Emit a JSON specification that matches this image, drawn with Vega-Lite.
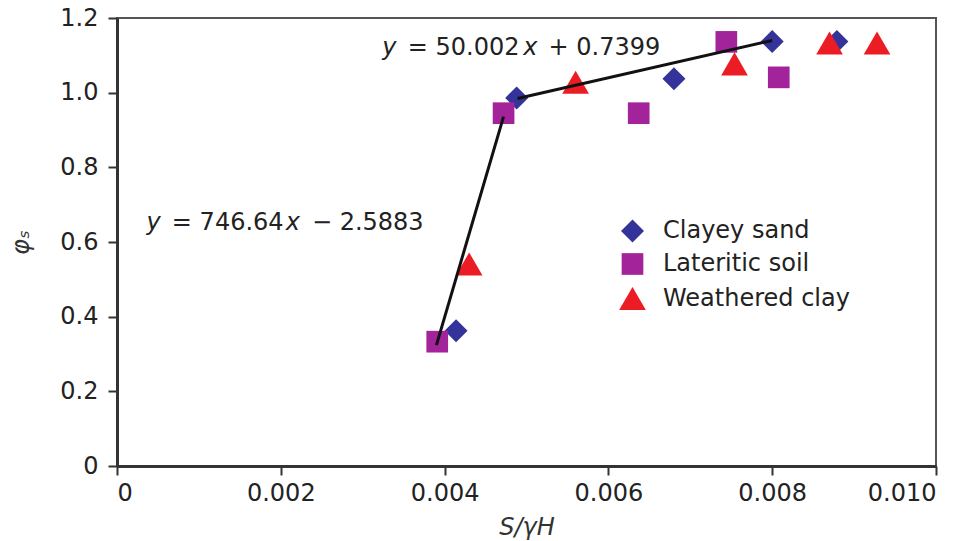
{
  "$schema": "https://vega.github.io/schema/vega-lite/v6.json",
  "width": 819,
  "height": 448,
  "autosize": {"type": "none"},
  "padding": {"left": 117, "top": 18, "right": 37, "bottom": 75},
  "background": "white",
  "config": {
    "font": "DejaVu Sans",
    "view": {"stroke": "#555555", "strokeWidth": 2},
    "axis": {
      "grid": false,
      "domainColor": "#333333",
      "domainWidth": 3,
      "tickColor": "#333333",
      "tickWidth": 2,
      "tickSize": 9,
      "labelFont": "DejaVu Sans",
      "labelFontSize": 24,
      "labelColor": "#222222",
      "titleFont": "DejaVu Sans",
      "titleFontSize": 24,
      "titleFontWeight": "normal",
      "titleColor": "#333333"
    }
  },
  "datasets": {
    "points": [
      {"soil": "Clayey sand", "ratio": 0.00414, "phi": 0.362},
      {"soil": "Clayey sand", "ratio": 0.00488, "phi": 0.986},
      {"soil": "Clayey sand", "ratio": 0.00680, "phi": 1.037},
      {"soil": "Clayey sand", "ratio": 0.00800, "phi": 1.137},
      {"soil": "Clayey sand", "ratio": 0.00879, "phi": 1.137},
      {"soil": "Lateritic soil", "ratio": 0.00391, "phi": 0.333},
      {"soil": "Lateritic soil", "ratio": 0.00472, "phi": 0.945},
      {"soil": "Lateritic soil", "ratio": 0.00637, "phi": 0.945},
      {"soil": "Lateritic soil", "ratio": 0.00744, "phi": 1.136},
      {"soil": "Lateritic soil", "ratio": 0.00808, "phi": 1.041},
      {"soil": "Weathered clay", "ratio": 0.00430, "phi": 0.541},
      {"soil": "Weathered clay", "ratio": 0.00560, "phi": 1.028},
      {"soil": "Weathered clay", "ratio": 0.00754, "phi": 1.077},
      {"soil": "Weathered clay", "ratio": 0.00870, "phi": 1.133},
      {"soil": "Weathered clay", "ratio": 0.00928, "phi": 1.133}
    ],
    "trend": [
      {"fit": "steep", "ratio": 0.00390, "phi": 0.3236},
      {"fit": "steep", "ratio": 0.00472, "phi": 0.9358},
      {"fit": "flat", "ratio": 0.00489, "phi": 0.9844},
      {"fit": "flat", "ratio": 0.00800, "phi": 1.1399}
    ],
    "one": [{}]
  },
  "layer": [
    {
      "data": {"name": "points"},
      "mark": {"type": "point", "filled": true, "opacity": 1, "strokeWidth": 0},
      "encoding": {
        "x": {
          "field": "ratio",
          "type": "quantitative",
          "scale": {"domain": [0, 0.01], "nice": false, "zero": true},
          "axis": {
            "values": [0, 0.002, 0.004, 0.006, 0.008, 0.01],
            "labelExpr": "datum.value == 0 ? '0' : format(datum.value, '.3f')",
            "labelPadding": 6,
            "title": "S/γH",
            "titleFontStyle": "italic",
            "titlePadding": 10
          }
        },
        "y": {
          "field": "phi",
          "type": "quantitative",
          "scale": {"domain": [0, 1.2], "nice": false},
          "axis": {
            "values": [0, 0.2, 0.4, 0.6, 0.8, 1.0, 1.2],
            "labelExpr": "datum.value == 0 ? '0' : format(datum.value, '.1f')",
            "labelPadding": 10,
            "title": "φₛ",
            "titleFontStyle": "italic",
            "titlePadding": 26
          }
        },
        "color": {
          "field": "soil",
          "type": "nominal",
          "scale": {"domain": ["Clayey sand", "Lateritic soil", "Weathered clay"], "range": ["#333399", "#A3239A", "#EC1C24"]},
          "legend": {
            "orient": "none",
            "legendX": 502,
            "legendY": 201,
            "title": null,
            "labelFontSize": 24,
            "labelColor": "#222222",
            "labelOffset": 17,
            "labelLimit": 400,
            "rowPadding": 9,
            "symbolStrokeWidth": 0
          }
        },
        "shape": {
          "field": "soil",
          "type": "nominal",
          "scale": {"domain": ["Clayey sand", "Lateritic soil", "Weathered clay"], "range": ["diamond", "square", "triangle-up"]}
        },
        "size": {
          "field": "soil",
          "type": "nominal",
          "scale": {"type": "ordinal", "domain": ["Clayey sand", "Lateritic soil", "Weathered clay"], "range": [529, 470, 713]}
        }
      }
    },
    {
      "data": {"name": "trend"},
      "mark": {"type": "line", "color": "#111111", "strokeWidth": 3},
      "encoding": {
        "x": {"field": "ratio", "type": "quantitative"},
        "y": {"field": "phi", "type": "quantitative"},
        "detail": {"field": "fit"}
      }
    },
    {
      "data": {"name": "one"},
      "mark": {"type": "text", "text": "y", "fontStyle": "italic", "fontSize": 24, "align": "left", "baseline": "alphabetic", "color": "#222222"},
      "encoding": {"x": {"datum": 0.00324}, "y": {"datum": 1.1017}}
    },
    {
      "data": {"name": "one"},
      "mark": {"type": "text", "text": "= 50.002", "fontSize": 24, "align": "left", "baseline": "alphabetic", "color": "#222222"},
      "encoding": {"x": {"datum": 0.00355}, "y": {"datum": 1.1017}}
    },
    {
      "data": {"name": "one"},
      "mark": {"type": "text", "text": "x", "fontStyle": "italic", "fontSize": 24, "align": "left", "baseline": "alphabetic", "color": "#222222"},
      "encoding": {"x": {"datum": 0.00496}, "y": {"datum": 1.1017}}
    },
    {
      "data": {"name": "one"},
      "mark": {"type": "text", "text": "+ 0.7399", "fontSize": 24, "align": "left", "baseline": "alphabetic", "color": "#222222"},
      "encoding": {"x": {"datum": 0.00527}, "y": {"datum": 1.1017}}
    },
    {
      "data": {"name": "one"},
      "mark": {"type": "text", "text": "y", "fontStyle": "italic", "fontSize": 24, "align": "left", "baseline": "alphabetic", "color": "#222222"},
      "encoding": {"x": {"datum": 0.00036}, "y": {"datum": 0.632}}
    },
    {
      "data": {"name": "one"},
      "mark": {"type": "text", "text": "= 746.64", "fontSize": 24, "align": "left", "baseline": "alphabetic", "color": "#222222"},
      "encoding": {"x": {"datum": 0.00067}, "y": {"datum": 0.632}}
    },
    {
      "data": {"name": "one"},
      "mark": {"type": "text", "text": "x", "fontStyle": "italic", "fontSize": 24, "align": "left", "baseline": "alphabetic", "color": "#222222"},
      "encoding": {"x": {"datum": 0.00206}, "y": {"datum": 0.632}}
    },
    {
      "data": {"name": "one"},
      "mark": {"type": "text", "text": "− 2.5883", "fontSize": 24, "align": "left", "baseline": "alphabetic", "color": "#222222"},
      "encoding": {"x": {"datum": 0.00238}, "y": {"datum": 0.632}}
    }
  ]
}
